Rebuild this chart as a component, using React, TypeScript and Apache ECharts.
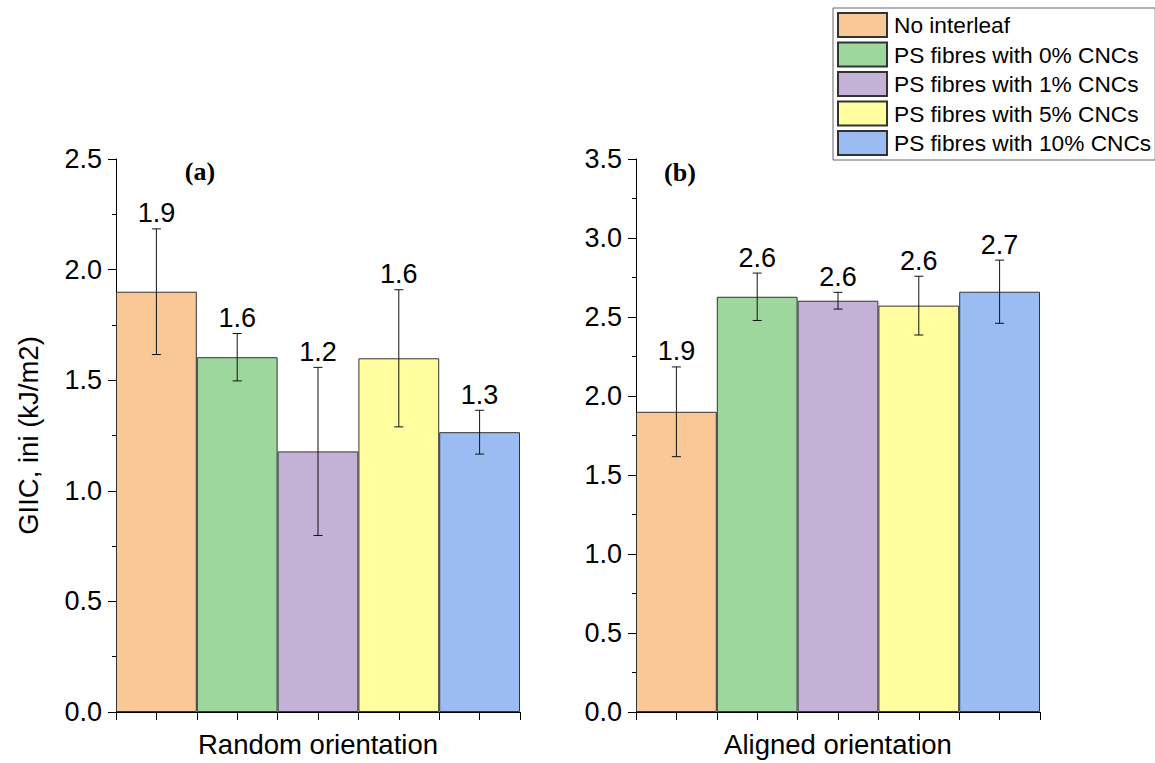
import React, { useEffect, useRef } from "react";
import * as echarts from "echarts";

const seriesNames = [
  "No interleaf",
  "PS fibres with 0% CNCs",
  "PS fibres with 1% CNCs",
  "PS fibres with 5% CNCs",
  "PS fibres with 10% CNCs",
];
const colors = ["#FAC896", "#9ED79E", "#C3B1D6", "#FFFD9E", "#9BBCF2"];

const slots = ["s1", "s2", "s3", "s4", "s5"];
const halfSlots = ["h1", "h2", "h3", "h4", "h5", "h6", "h7", "h8", "h9", "h10"];

const randomMean = [1.9, 1.604, 1.178, 1.599, 1.265];
const randomErr = [0.284, 0.107, 0.38, 0.31, 0.099];
const randomLabels = ["1.9", "1.6", "1.2", "1.6", "1.3"];

const alignedMean = [1.9, 2.628, 2.603, 2.572, 2.66];
const alignedErr = [0.284, 0.15, 0.053, 0.186, 0.2];
const alignedLabels = ["1.9", "2.6", "2.6", "2.6", "2.7"];

const xTitles = ["Random orientation", "Aligned orientation"];
const yTitle = "GIIC, ini (kJ/m2)";
const panelTags = ["(a)", "(b)"];
const yMax = [2.5, 3.5];

const FONT = "Liberation Sans, Arial, sans-serif";

export default function App() {
  const ref = useRef<HTMLDivElement>(null);
  useEffect(() => {
    if (!ref.current) return;
    const chart = echarts.init(ref.current, null, { renderer: "svg" });
    const panels = [
      { mean: randomMean, err: randomErr, labels: randomLabels },
      { mean: alignedMean, err: alignedErr, labels: alignedLabels },
    ];
    const grids = [
      { left: 116, right: 635, top: 159, bottom: 50 },
      { left: 636, right: 115, top: 159, bottom: 50 },
    ];
    const xAxes: any[] = [];
    const yAxes: any[] = [];
    const series: any[] = [];
    panels.forEach((p, gi) => {
      xAxes.push({
        type: "category",
        gridIndex: gi,
        data: slots,
        boundaryGap: true,
        axisLine: { show: true, lineStyle: { color: "#000", width: 1 } },
        axisTick: { show: false },
        axisLabel: { show: false },
        name: xTitles[gi],
        nameLocation: "middle",
        nameGap: 18,
        nameTextStyle: { fontFamily: FONT, fontSize: 27.5, color: "#000" },
        z: 3,
      });
      xAxes.push({
        type: "category",
        gridIndex: gi,
        data: halfSlots,
        boundaryGap: true,
        position: "bottom",
        axisLine: { show: false },
        axisTick: { show: true, interval: 0, length: 8, lineStyle: { color: "#000", width: 1 } },
        axisLabel: { show: false },
      });
      yAxes.push({
        type: "value",
        gridIndex: gi,
        min: 0,
        max: yMax[gi],
        interval: 0.5,
        axisLine: { show: true, lineStyle: { color: "#000", width: 1 } },
        axisTick: { show: true, length: 8, lineStyle: { color: "#000" } },
        minorTick: { show: true, splitNumber: 2, length: 4, lineStyle: { color: "#000" } },
        splitLine: { show: false },
        axisLabel: {
          fontFamily: FONT,
          fontSize: 27,
          color: "#000",
          margin: 14,
          formatter: (v: number) => v.toFixed(1),
        },
        name: gi === 0 ? yTitle : "",
        nameLocation: "middle",
        nameGap: 74,
        nameTextStyle: { fontFamily: FONT, fontSize: 27.5, color: "#000" },
      });
      p.mean.forEach((m, i) => {
        const data = slots.map((_, j) => (j === i ? m : "-"));
        series.push({
          type: "bar",
          name: seriesNames[i],
          xAxisIndex: gi * 2,
          yAxisIndex: gi,
          data,
          barWidth: "100%",
          barGap: "-100%",
          itemStyle: { color: colors[i], borderColor: "#333", borderWidth: 1 },
          z: 2,
        });
      });
      series.push({
        type: "custom",
        name: "err" + gi,
        xAxisIndex: gi * 2,
        yAxisIndex: gi,
        data: p.mean.map((m, i) => [i, m - p.err[i], m + p.err[i]]),
        z: 5,
        renderItem: (params: any, api: any) => {
          const idx = params.dataIndex;
          const top = api.coord([api.value(0), api.value(2)]);
          const bot = api.coord([api.value(0), api.value(1)]);
          const x = top[0];
          const hw = 4.5;
          const ls = { stroke: "#111", lineWidth: 1 };
          return {
            type: "group",
            children: [
              { type: "line", shape: { x1: x, y1: top[1], x2: x, y2: bot[1] }, style: ls },
              { type: "line", shape: { x1: x - hw, y1: top[1], x2: x + hw, y2: top[1] }, style: ls },
              { type: "line", shape: { x1: x - hw, y1: bot[1], x2: x + hw, y2: bot[1] }, style: ls },
              {
                type: "text",
                x: x,
                y: top[1] - 2,
                style: {
                  text: p.labels[idx],
                  fontFamily: FONT,
                  fontSize: 27,
                  fill: "#000",
                  align: "center",
                  verticalAlign: "bottom",
                },
              },
            ],
          };
        },
      });
    });

    const tagStyle = {
      fontFamily: "Liberation Serif, Times New Roman, serif",
      fontWeight: "bold",
      fontSize: 26,
      fill: "#000",
      align: "center",
      verticalAlign: "middle",
    };

    chart.setOption({
      animation: false,
      backgroundColor: "#fff",
      grid: grids,
      xAxis: xAxes,
      yAxis: yAxes,
      legend: {
        data: seriesNames,
        orient: "vertical",
        left: 833,
        top: 8,
        padding: 4,
        itemWidth: 49,
        itemHeight: 24,
        itemGap: 3.5,
        icon: "rect",
        borderColor: "#666",
        borderWidth: 1,
        backgroundColor: "#fff",
        textStyle: { fontFamily: FONT, fontSize: 22.7, color: "#000", padding: [0, 0, 0, 2] },
        selectedMode: false,
      },
      graphic: [
        { type: "text", x: 200, y: 171, style: { ...tagStyle, text: panelTags[0] } },
        { type: "text", x: 680, y: 172, style: { ...tagStyle, text: panelTags[1] } },
      ],
      series,
    });
    return () => chart.dispose();
  }, []);
  return (
    <div
      ref={ref}
      style={{ position: "absolute", left: 0, top: 0, width: 1155, height: 763 }}
    />
  );
}
